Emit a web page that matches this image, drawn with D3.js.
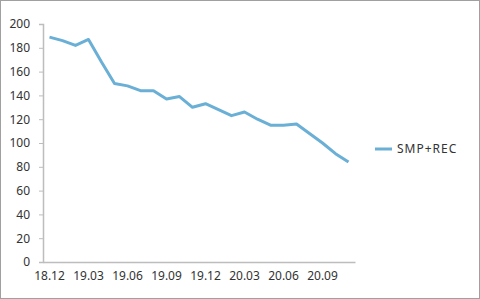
<!DOCTYPE html>
<html>
<head>
<meta charset="utf-8">
<script src="https://cdn.jsdelivr.net/npm/d3@7"></script>
<style>
  body { margin: 0; background: #fff; }
  svg { display: block; }
  text { font-family: "Noto Sans", sans-serif; fill: #333; }
</style>
</head>
<body>
<div class="chart"></div>
<script>
// Data
var months = ["18.12", "19.01", "19.02", "19.03", "19.04", "19.05", "19.06", "19.07",
  "19.08", "19.09", "19.10", "19.11", "19.12", "20.01", "20.02", "20.03",
  "20.04", "20.05", "20.06", "20.07", "20.08", "20.09", "20.10", "20.11"];
var smpRec = [189, 186, 182, 187, 168, 150, 148, 144, 144, 137, 139, 130,
  133, 128, 123, 126, 120, 115, 115, 116, 108, 100, 91, 84];
var yTicks = [0, 20, 40, 60, 80, 100, 120, 140, 160, 180, 200];
var seriesName = "SMP+REC";

var svgWidth = 480;
var svgHeight = 299;
var margin = { top: 24, right: 125, bottom: 37, left: 43 };
var width = svgWidth - margin.left - margin.right;
var height = svgHeight - margin.top - margin.bottom;

var svg = d3.select(".chart")
  .append("svg")
  .attr("width", svgWidth)
  .attr("height", svgHeight);

// frame
svg.append("rect")
  .attr("x", 0.5).attr("y", 0.5)
  .attr("width", svgWidth - 1).attr("height", svgHeight - 1)
  .attr("fill", "none")
  .attr("stroke", "#a0a0a0");

var chartGroup = svg.append("g")
  .attr("transform", `translate(${margin.left}, ${margin.top})`);

var x = d3.scaleBand()
  .domain(months)
  .range([0, width]);

var y = d3.scaleLinear()
  .domain([0, 200])
  .range([height, 0]);

// y axis
var leftAxis = d3.axisLeft(y).tickValues(yTicks).tickSize(4).tickPadding(9);
var yAxis = chartGroup.append("g").call(leftAxis);
yAxis.select(".domain").attr("stroke", "#bdbdbd").attr("stroke-width", 1.5);
yAxis.selectAll(".tick line").attr("stroke", "#bdbdbd");
yAxis.selectAll("text").attr("font-size", "12px").attr("fill", "#3a3a3a");

// x axis
var bottomAxis = d3.axisBottom(x)
  .tickValues(months.filter((d, i) => i % 3 === 0))
  .tickSize(0).tickPadding(9);
var xAxis = chartGroup.append("g")
  .attr("transform", `translate(0, ${height})`)
  .call(bottomAxis);
xAxis.select(".domain").attr("stroke", "#bdbdbd").attr("stroke-width", 1.5);
xAxis.selectAll("text").attr("font-size", "12px").attr("fill", "#3a3a3a");

// line
var line = d3.line()
  .x((d, i) => x(months[i]) + x.bandwidth() / 2)
  .y(d => y(d));

chartGroup.append("path")
  .datum(smpRec)
  .attr("fill", "none")
  .attr("stroke", "#6aafd5")
  .attr("stroke-width", 3)
  .attr("stroke-linejoin", "round")
  .attr("d", line);

// legend
var legend = svg.append("g")
  .attr("transform", "translate(375, 149)");
legend.append("line")
  .attr("x1", 0).attr("x2", 17)
  .attr("stroke", "#6aafd5")
  .attr("stroke-width", 3);
legend.append("text")
  .attr("x", 22)
  .attr("dy", "0.35em")
  .attr("font-size", "12px")
  .attr("letter-spacing", "1px")
  .attr("fill", "#3a3a3a")
  .text(seriesName);
</script>
</body>
</html>
